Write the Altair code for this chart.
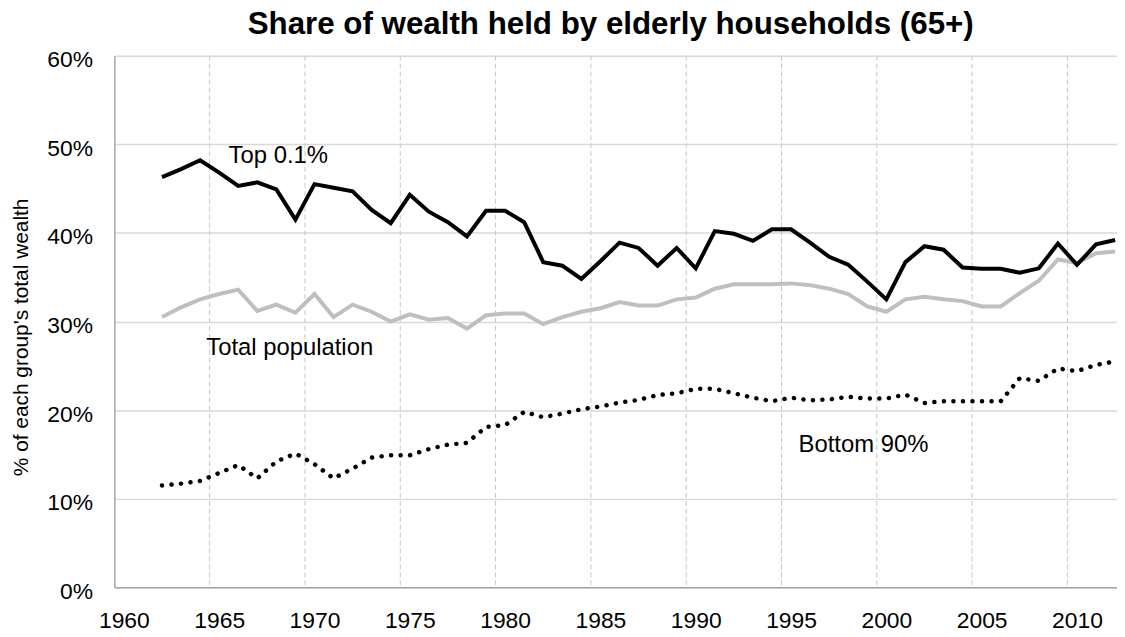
import altair as alt
import pandas as pd

years = list(range(1962, 2013))

top_01 = [46.3, 47.2, 48.2, 46.8, 45.3, 45.7, 44.9, 41.5, 45.5, 45.1,
          44.7, 42.6, 41.1, 44.3, 42.4, 41.2, 39.6, 42.5, 42.5, 41.2,
          36.7, 36.3, 34.8, 36.8, 38.9, 38.3, 36.3, 38.3, 36.0, 40.2,
          39.9, 39.1, 40.4, 40.4, 38.9, 37.3, 36.4, 34.5, 32.5, 36.7,
          38.5, 38.1, 36.1, 35.95, 35.95, 35.5, 36.0, 38.8, 36.4, 38.7,
          39.2]

total_pop = [30.5, 31.6, 32.5, 33.1, 33.6, 31.2, 31.9, 31.0, 33.1, 30.5,
             31.9, 31.1, 30.0, 30.8, 30.2, 30.4, 29.2, 30.7, 30.9, 30.9,
             29.7, 30.5, 31.1, 31.5, 32.2, 31.8, 31.8, 32.5, 32.7, 33.7,
             34.2, 34.2, 34.2, 34.3, 34.1, 33.7, 33.1, 31.7, 31.1, 32.5,
             32.8, 32.5, 32.3, 31.7, 31.7, 33.2, 34.6, 37.0, 36.6, 37.7,
             37.9]

bottom_90 = [11.5, 11.7, 12.0, 12.9, 13.8, 12.3, 14.2, 15.1, 13.9, 12.3,
             13.4, 14.65, 14.9, 14.9, 15.6, 16.1, 16.3, 18.1, 18.3, 19.8,
             19.2, 19.6, 20.1, 20.4, 20.85, 21.15, 21.7, 21.9, 22.4, 22.4,
             21.9, 21.4, 21.0, 21.4, 21.1, 21.2, 21.5, 21.3, 21.3, 21.75,
             20.8, 21.0, 21.0, 21.0, 21.0, 23.6, 23.3, 24.7, 24.4, 25.1,
             25.5]

series_names = ["top", "total", "bottom"]

label_text = ["Top 0.1%", "Total population", "Bottom 90%"]
label_year = [1968.1, 1968.7, 1998.8]
label_value = [48.65, 27.0, 16.1]

tick_years = [1960, 1965, 1970, 1975, 1980, 1985, 1990, 1995, 2000, 2005, 2010]
grid_years = [1964.5, 1969.5, 1974.5, 1979.5, 1984.5, 1989.5, 1994.5, 1999.5, 2004.5, 2009.5]
y_ticks = [0, 10, 20, 30, 40, 50, 60]

FONT = "Liberation Sans"

df = pd.DataFrame({
    "year": years * 3,
    "value": top_01 + total_pop + bottom_90,
    "series": [series_names[0]] * len(years) + [series_names[1]] * len(years) + [series_names[2]] * len(years),
})
labels_df = pd.DataFrame({"year": label_year, "value": label_value, "text": label_text})
grid_df = pd.DataFrame({"year": grid_years})

x_scale = alt.Scale(domain=[1959.5, 2012.1], nice=False, zero=False)
y_scale = alt.Scale(domain=[0, 60], nice=False, zero=True)

x_axis = alt.Axis(values=tick_years, format="d", grid=False, ticks=False,
                  labelPadding=22, labelFontSize=23, labelFont=FONT, labelColor="black",
                  domainColor="#a6a6a6", domainWidth=1.5, title=None)
y_axis = alt.Axis(values=y_ticks, labelExpr="datum.value + '%'", grid=True,
                  gridColor="#d9d9d9", gridWidth=1.5, ticks=False,
                  labelPadding=22, labelFontSize=23, labelFont=FONT, labelColor="black",
                  labelOffset=4,
                  domainColor="#a6a6a6", domainWidth=1.5,
                  title="% of each group's total wealth", titleFont=FONT,
                  titleFontSize=21, titleFontWeight="normal", titleColor="black",
                  titleX=-93, titleY=283, titleAngle=270, titleAlign="center",
                  titleBaseline="middle")

X = alt.X("year:Q", scale=x_scale, axis=x_axis)
Y = alt.Y("value:Q", scale=y_scale, axis=y_axis)

vgrid = alt.Chart(grid_df).mark_rule(color="#c8c8c8", strokeDash=[5, 3], strokeWidth=1).encode(x=X)

base = alt.Chart(df)
gray_line = base.transform_filter("datum.series == 'total'").mark_line(
    color="#bfbfbf", strokeWidth=4).encode(x=X, y=Y)
top_line = base.transform_filter("datum.series == 'top'").mark_line(
    color="black", strokeWidth=4).encode(x=X, y=Y)
bottom_line = base.transform_filter("datum.series == 'bottom'").mark_line(
    color="black", strokeWidth=4.5, strokeDash=[0.1, 9.5], strokeCap="round").encode(x=X, y=Y)

labels = alt.Chart(labels_df).mark_text(
    font=FONT, fontSize=24, color="black", align="center", baseline="middle"
).encode(x=X, y=Y, text="text:N")

chart = alt.layer(vgrid, gray_line, top_line, bottom_line, labels).properties(
    width=1009, height=535,
    autosize=alt.AutoSizeParams(type="none"),
    padding={"left": 107, "top": 46, "right": 0, "bottom": 44},
    title=alt.TitleParams("Share of wealth held by elderly households (65+)",
                          fontSize=31.5, fontWeight="bold", font=FONT, color="black",
                          anchor="middle", offset=8, dx=-5),
).configure_view(stroke=None)

chart.save("out.html", embed_options={"renderer": "svg", "actions": False})
